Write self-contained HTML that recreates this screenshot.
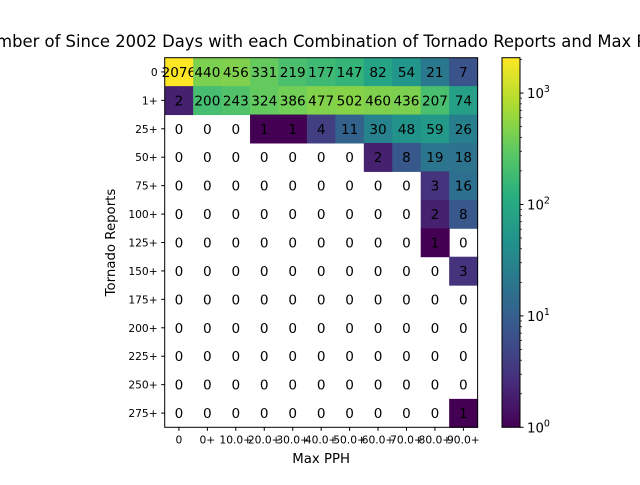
<!DOCTYPE html>
<html><head><meta charset="utf-8"><style>
body{margin:0;background:#fff;width:640px;height:480px;overflow:hidden}
svg{font-family:"DejaVu Sans","Liberation Sans",sans-serif}
</style></head><body>
<svg id="c" width="640" height="480"></svg>
<script>
const xLabels=["0","0+","10.0+","20.0+","30.0+","40.0+","50.0+","60.0+","70.0+","80.0+","90.0+"];
const yLabels=["0","1+","25+","50+","75+","100+","125+","150+","175+","200+","225+","250+","275+"];
const row0=[2076,440,456,331,219,177,147,82,54,21,7];
const row1=[2,200,243,324,386,477,502,460,436,207,74];
const row2=[0,0,0,1,1,4,11,30,48,59,26];
const row3=[0,0,0,0,0,0,0,2,8,19,18];
const row4=[0,0,0,0,0,0,0,0,0,3,16];
const row5=[0,0,0,0,0,0,0,0,0,2,8];
const row6=[0,0,0,0,0,0,0,0,0,1,0];
const row7=[0,0,0,0,0,0,0,0,0,0,3];
const row8=[0,0,0,0,0,0,0,0,0,0,0];
const row9=[0,0,0,0,0,0,0,0,0,0,0];
const row10=[0,0,0,0,0,0,0,0,0,0,0];
const row11=[0,0,0,0,0,0,0,0,0,0,0];
const row12=[0,0,0,0,0,0,0,0,0,0,1];
const rows=[row0,row1,row2,row3,row4,row5,row6,row7,row8,row9,row10,row11,row12];
const cbTicks=[1,10,100,1000];
const cbTickLabels=["0","1","2","3"];

const NS="http://www.w3.org/2000/svg";
const svg=document.getElementById('c');
function mk(t,a,p){const e=document.createElementNS(NS,t);for(const k in a)e.setAttribute(k,a[k]);(p||svg).appendChild(e);return e;}
const L=164.7,T=57.7,R=477.6,B=427.3;
const cw=(R-L)/xLabels.length, ch=(B-T)/yLabels.length;
const vmax=Math.max(...rows.flat()), vmin=1;
const norm=v=>(Math.log(v)-Math.log(vmin))/(Math.log(vmax)-Math.log(vmin));
const stops=["#440154","#472d7b","#3b528b","#2c728e","#21918c","#28ae80","#5ec962","#addc30","#fde725"].map(h=>[1,3,5].map(i=>parseInt(h.substr(i,2),16)));
function viridis(t){t=Math.max(0,Math.min(1,t));const s=t*8,i=Math.min(7,Math.floor(s)),f=s-i;const a=stops[i],b=stops[i+1];return `rgb(${a.map((x,k)=>Math.round(x+(b[k]-x)*f)).join(',')})`;}
const xs=i=>L+i*cw, ys=j=>T+j*ch;

const title=mk('text',{x:321,y:47,'text-anchor':'middle','font-size':16.4});
title.textContent="Number of Since 2002 Days with each Combination of Tornado Reports and Max PPH";



rows.forEach((r,j)=>r.forEach((v,i)=>{
  if(v>0){const c=mk('rect',{x:xs(i),y:ys(j),width:cw+0.5,height:ch+0.5,fill:viridis(norm(v))});
    
    }
  const t=mk('text',{x:xs(i)+cw/2,y:ys(j)+ch/2+5,'text-anchor':'middle','font-size':13.6,fill:'#000'});
  t.textContent=v;
  
  
}));
const fr=mk('rect',{x:L,y:T,width:R-L,height:B-T,fill:'none',stroke:'#000','stroke-width':1});


xLabels.forEach((s,i)=>{const x=xs(i)+cw/2;mk('line',{x1:x,x2:x,y1:B,y2:B+3.5,stroke:'#000'});
  const t=mk('text',{x:x,y:B+16,'text-anchor':'middle','font-size':10.7});t.textContent=s;
  
  });
yLabels.forEach((s,j)=>{const y=ys(j)+ch/2;mk('line',{x1:L-3.5,x2:L,y1:y,y2:y,stroke:'#000'});
  const t=mk('text',{x:L-7,y:y+4,'text-anchor':'end','font-size':10.7});t.textContent=s;
  
  });
const xl=mk('text',{x:(L+R)/2,y:463,'text-anchor':'middle','font-size':13.3});xl.textContent="Max PPH";


const yl=mk('text',{x:0,y:0,'text-anchor':'middle','font-size':13.3,transform:`translate(115,${(T+B)/2}) rotate(-90)`});yl.textContent="Tornado Reports";



// colorbar
const CL=502,CR=520;
const defs=mk('defs',{});const g=mk('linearGradient',{id:'vg',x1:0,y1:1,x2:0,y2:0},defs);
for(let k=0;k<=16;k++)mk('stop',{offset:k/16,'stop-color':viridis(k/16)},g);
const cb=mk('rect',{x:CL,y:T,width:CR-CL,height:B-T,fill:'url(#vg)',stroke:'#000'});


const cy=v=>B-norm(v)*(B-T);
cbTicks.forEach((v,k)=>{
  const y=cy(v);mk('line',{x1:CR,x2:CR+3.5,y1:y,y2:y,stroke:'#000'});
  const t=mk('text',{x:CR+7,y:y+5,'font-size':13.3});t.textContent="10";
  const s=mk('tspan',{dy:-6,'font-size':9.5},t);s.textContent=cbTickLabels[k];
  
  
  for(let m=2;m<=9;m++){const mv=v*m;if(mv<=vmax){const my=cy(mv);mk('line',{x1:CR,x2:CR+2,y1:my,y2:my,stroke:'#000','stroke-width':0.7});}}
});
</script>
</body></html>
